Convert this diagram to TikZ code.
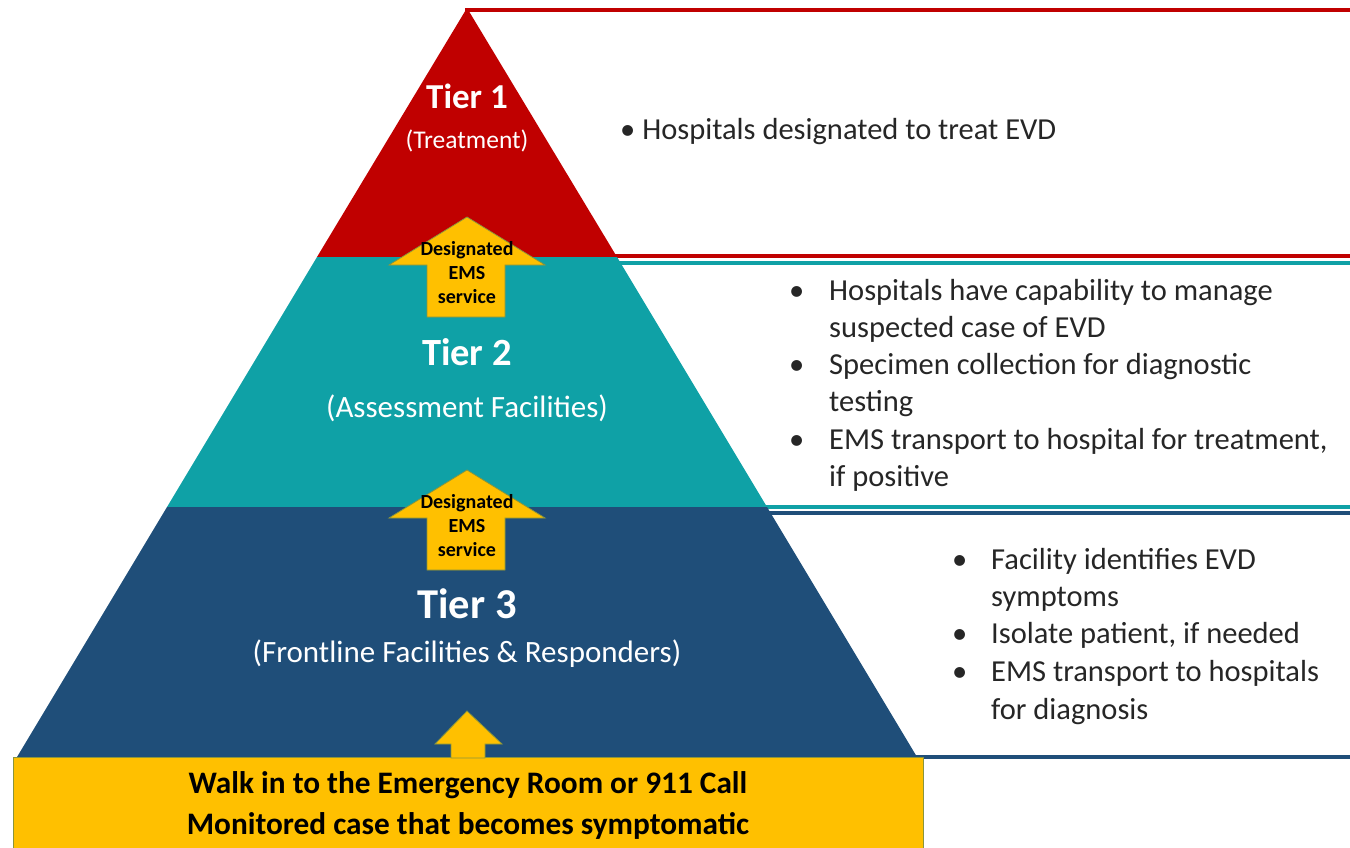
\documentclass[tikz,border=0pt]{standalone}
\usepackage{fontspec}
\setmainfont{Carlito}
\definecolor{tierred}{HTML}{C00000}
\definecolor{tierteal}{HTML}{0FA1A6}
\definecolor{tiernavy}{HTML}{1F4E79}
\definecolor{emsyellow}{HTML}{FFC000}
\definecolor{emsedge}{HTML}{8A953C}

\begin{document}
\begin{tikzpicture}[x=1pt,y=-1pt,line join=miter,
  tierbox/.style={line width=3.5pt},
  emsarrow/.style={fill=emsyellow,draw=emsedge,line width=0.8pt},
  emslabel/.style={align=center,inner sep=0pt,font=\bfseries\fontsize{20}{24}\selectfont},
  tiername/.style={anchor=base,inner sep=0pt,text=white,font=\bfseries\fontsize{#1}{#1}\selectfont},
  tiersub/.style={anchor=base,inner sep=0pt,text=white,font=\fontsize{#1}{#1}\selectfont},
  itemline/.style={anchor=base west,inner sep=0pt,text=black!85,font=\fontsize{30.5}{36}\selectfont}]
\useasboundingbox (0,0) rectangle (1350,847);
\clip (0,0) rectangle (1350,847);
% side boxes
\draw[tierbox,draw=tierred] (467,10) rectangle (1370,256);
\draw[tierbox,draw=tierteal] (617,263) rectangle (1370,507);
\draw[tierbox,draw=tiernavy] (767,513) rectangle (1370,757);
% pyramid
\fill[tierred] (467,8) -- (317,257) -- (617,257) -- cycle;
\fill[tierteal] (317,257) -- (167,507) -- (767,507) -- (617,257) -- cycle;
\fill[tiernavy] (167,507) -- (17,757) -- (917,757) -- (767,507) -- cycle;
% entry box
\draw[fill=emsyellow,draw=emsedge,line width=0.8pt] (13,757) rectangle (923,870);
% arrows
\foreach \ty/\nm in {217/ems1,470/ems2}{
  \draw[emsarrow] (467,\ty) -- (545,\ty+48) -- (505,\ty+48) -- (505,\ty+100)
    -- (427,\ty+100) -- (427,\ty+48) -- (389,\ty+48) -- cycle;
  \node[emslabel] (\nm) at (467,\ty+56) {Designated\\EMS\\service};
}
\draw[emsarrow] (467,711) -- (502,744) -- (485,744) -- (485,758) -- (451,758)
  -- (451,744) -- (435,744) -- cycle;
% tier texts
\node[tiername=35] (tier1) at (467,108) {Tier 1};
\node[tiersub=25.5] (tier1sub) at (467,148) {(Treatment)};
\node[tiername=38.5] (tier2) at (467,365) {Tier 2};
\node[tiersub=31] (tier2sub) at (467,417) {(Assessment Facilities)};
\node[tiername=42.5] (tier3) at (467,618) {Tier 3};
\node[tiersub=31] (tier3sub) at (467,662) {(Frontline Facilities \& Responders)};
\node[anchor=base,inner sep=0pt,font=\bfseries\fontsize{31.3}{31}\selectfont] (entry1) at (468,793)
  {Walk in to the Emergency Room or 911 Call};
\node[anchor=base,inner sep=0pt,font=\bfseries\fontsize{31.3}{31}\selectfont] (entry2) at (468,834)
  {Monitored case that becomes symptomatic};
% bullet texts
\node[itemline] (t1line1) at (620,139) {• Hospitals designated to treat EVD};
\foreach \y in {300,374,449} \node[itemline] at (789,\y) {•};
\foreach \y/\txt [count=\i] in {300/Hospitals have capability to manage,
    337/suspected case of EVD, 374/Specimen collection for diagnostic, 411/testing,
    449/{EMS transport to hospital for treatment,}, 486/if positive}
  \node[itemline] (t2line\i) at (829,\y) {\txt};
\foreach \y in {569,643,681} \node[itemline] at (952,\y) {•};
\foreach \y/\txt [count=\i] in {569/Facility identifies EVD, 606/symptoms,
    643/{Isolate patient, if needed}, 681/EMS transport to hospitals, 719/for diagnosis}
  \node[itemline] (t3line\i) at (991,\y) {\txt};
\end{tikzpicture}
\end{document}
